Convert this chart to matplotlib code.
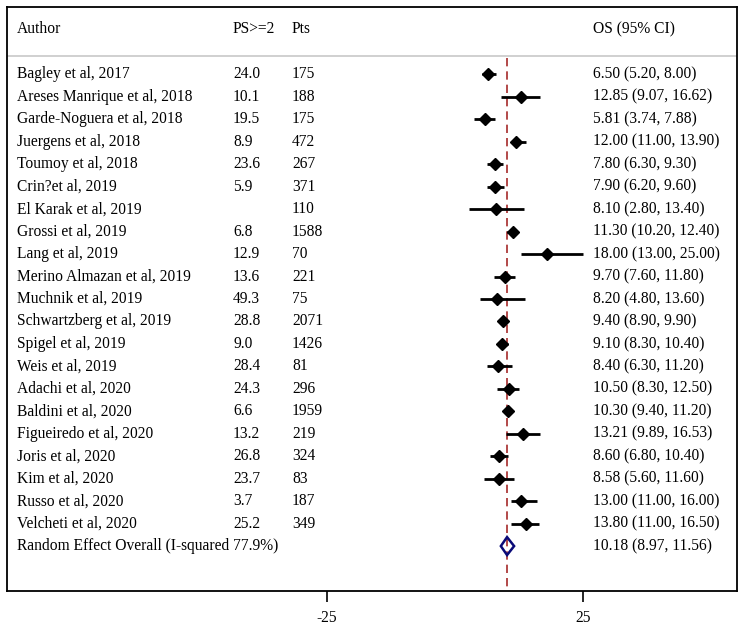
import matplotlib.pyplot as plt
from matplotlib.patches import Polygon
from matplotlib.transforms import blended_transform_factory

# Study data
authors = ["Bagley et al, 2017", "Areses Manrique et al, 2018", "Garde-Noguera et al, 2018",
           "Juergens et al, 2018", "Toumoy et al, 2018", "Crin?et al, 2019", "El Karak et al, 2019",
           "Grossi et al, 2019", "Lang et al, 2019", "Merino Almazan et al, 2019", "Muchnik et al, 2019",
           "Schwartzberg et al, 2019", "Spigel et al, 2019", "Weis et al, 2019", "Adachi et al, 2020",
           "Baldini et al, 2020", "Figueiredo et al, 2020", "Joris et al, 2020", "Kim et al, 2020",
           "Russo et al, 2020", "Velcheti et al, 2020"]
ps2 = ["24.0", "10.1", "19.5", "8.9", "23.6", "5.9", "", "6.8", "12.9", "13.6", "49.3",
       "28.8", "9.0", "28.4", "24.3", "6.6", "13.2", "26.8", "23.7", "3.7", "25.2"]
pts = ["175", "188", "175", "472", "267", "371", "110", "1588", "70", "221", "75",
       "2071", "1426", "81", "296", "1959", "219", "324", "83", "187", "349"]
os_est = [6.50, 12.85, 5.81, 12.00, 7.80, 7.90, 8.10, 11.30, 18.00, 9.70, 8.20,
          9.40, 9.10, 8.40, 10.50, 10.30, 13.21, 8.60, 8.58, 13.00, 13.80]
os_lo = [5.20, 9.07, 3.74, 11.00, 6.30, 6.20, 2.80, 10.20, 13.00, 7.60, 4.80,
         8.90, 8.30, 6.30, 8.30, 9.40, 9.89, 6.80, 5.60, 11.00, 11.00]
os_hi = [8.00, 16.62, 7.88, 13.90, 9.30, 9.60, 13.40, 12.40, 25.00, 11.80, 13.60,
         9.90, 10.40, 11.20, 12.50, 11.20, 16.53, 10.40, 11.60, 16.00, 16.50]
overall = (10.18, 8.97, 11.56)
overall_label = "Random Effect Overall (I-squared 77.9%)"
xticks = [-25, 25]

plt.rcParams['font.family'] = ['Liberation Serif', 'DejaVu Serif']
fig = plt.figure(figsize=(7.44, 6.29), dpi=100)
ax = fig.add_axes([7 / 744, 38 / 629, 730 / 744, 584 / 629])

n = len(authors)
ax.set_xlim(-87.5, 55.1)
ax.set_ylim(23.0, -3.0)

tr = blended_transform_factory(ax.transAxes, ax.transData)
fs = 11.2
col_author, col_ps, col_pts, col_os = 10 / 730, 226 / 730, 285 / 730, 586 / 730

# header
ax.text(col_author, -2.0, "Author", transform=tr, va="center", fontsize=fs)
ax.text(col_ps, -2.0, "PS>=2", transform=tr, va="center", fontsize=fs)
ax.text(col_pts, -2.0, "Pts", transform=tr, va="center", fontsize=fs)
ax.text(col_os, -2.0, "OS (95% CI)", transform=tr, va="center", fontsize=fs)
ax.axhline(-0.8, color="#c8c8c8", lw=1.2)

# reference line at overall estimate
ax.plot([overall[0], overall[0]], [-0.75, 23.0], color="#a52a2a", lw=1.2, ls=(0, (5, 3)), zorder=1)

for i in range(n):
    ax.text(col_author, i, authors[i], transform=tr, va="center", fontsize=fs)
    ax.text(col_ps, i, ps2[i], transform=tr, va="center", fontsize=fs)
    ax.text(col_pts, i, pts[i], transform=tr, va="center", fontsize=fs)
    ax.text(col_os, i, f"{os_est[i]:.2f} ({os_lo[i]:.2f}, {os_hi[i]:.2f})",
            transform=tr, va="center", fontsize=fs)
    ax.plot([os_lo[i], os_hi[i]], [i, i], color="black", lw=2, solid_capstyle="butt", zorder=2)
    ax.plot(os_est[i], i, marker="D", color="black", ms=6.5, zorder=3)

# overall diamond
yo = n
ax.text(col_author, yo, overall_label, transform=tr, va="center", fontsize=fs)
ax.text(col_os, yo, f"{overall[0]:.2f} ({overall[1]:.2f}, {overall[2]:.2f})",
        transform=tr, va="center", fontsize=fs)
dia = Polygon([[overall[1], yo], [overall[0], yo - 0.4], [overall[2], yo], [overall[0], yo + 0.4]],
              closed=True, fill=False, edgecolor="#0a0a78", lw=1.8, zorder=3)
ax.add_patch(dia)

ax.set_xticks(xticks)
ax.set_xticklabels([str(t) for t in xticks], fontsize=fs)
ax.set_yticks([])
ax.tick_params(axis="x", direction="out", length=8, width=1.2, pad=6)
for s in ax.spines.values():
    s.set_linewidth(1.3)

fig.savefig("out.png", dpi=100)
